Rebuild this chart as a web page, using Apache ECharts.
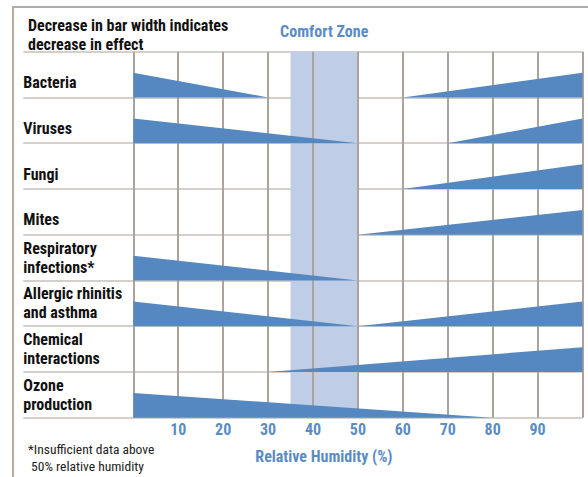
<!DOCTYPE html>
<html><head><meta charset="utf-8">
<script src="https://cdn.jsdelivr.net/npm/echarts@6/dist/echarts.min.js"></script>
<style>html,body{margin:0;padding:0;background:#fff}#c{width:588px;height:477px}</style>
</head><body><div id="c"></div>
<script>
// Categories (rows, top to bottom)
const categories = ['Bacteria', 'Viruses', 'Fungi', 'Mites', 'Respiratory\ninfections*', 'Allergic rhinitis\nand asthma', 'Chemical\ninteractions', 'Ozone\nproduction'];
// Relative humidity tick labels
const xTicks = [10, 20, 30, 40, 50, 60, 70, 80, 90];
// Wedges: [row index, start RH %, relative effect at start, end RH %, relative effect at end]
const decreasingWedges = [[0, 0, 1, 30, 0], [1, 0, 1, 50, 0], [4, 0, 1, 50, 0], [5, 0, 1, 50, 0], [7, 0, 1, 80, 0]];
const increasingWedges = [[0, 60, 0, 100, 1], [1, 70, 0, 100, 1], [2, 60, 0, 100, 1], [3, 50, 0, 100, 1], [5, 50, 0, 100, 1], [6, 30, 0, 100, 1]];
// Comfort zone range (RH %)
const comfortZone = [35, 50];

const FONT = 'Roboto;font-stretch:condensed';
const BLUE = '#5588c0';
const TEXTBLUE = '#5b8cc4';

const chart = echarts.init(document.getElementById('c'), null, {renderer: 'svg'});

function renderWedge(params, api) {
  const r = api.value(0), x1 = api.value(1), h1 = api.value(2), x2 = api.value(3), h2 = api.value(4);
  const band = api.size([0, 1])[1];
  const c1 = api.coord([x1, r]);
  const c2 = api.coord([x2, r]);
  const base = c1[1] + band / 2;
  const H = band * 0.54;
  return {
    type: 'polygon',
    shape: {points: [[c1[0], base], [c1[0], base - h1 * H], [c2[0], base - h2 * H], [c2[0], base]]},
    style: {fill: BLUE}
  };
}

chart.setOption({
  animation: false,
  title: [
    {text: 'Decrease in bar width indicates\ndecrease in effect', left: 23, top: 11,
     textStyle: {fontFamily: FONT, fontSize: 16, fontWeight: 'bold', color: '#111', lineHeight: 19}},
    {text: '*Insufficient data above\n 50% relative humidity', left: 23, top: 435,
     textStyle: {fontFamily: FONT, fontSize: 13.5, fontWeight: 'normal', color: '#222', lineHeight: 17}}
  ],
  graphic: [{
    type: 'polyline', silent: true,
    shape: {points: [[13, 477], [13, 7], [588, 7]]},
    style: {stroke: '#b5ada5', lineWidth: 2, fill: null}
  }],
  grid: {left: 133.3, right: 5.5, top: 51.7, bottom: 59.3},
  xAxis: {
    type: 'value', min: 0, max: 100, interval: 10, z: 2,
    axisLine: {show: false}, axisTick: {show: false},
    splitLine: {show: true, lineStyle: {color: '#aca49c', width: 2}},
    axisLabel: {
      margin: 7, color: TEXTBLUE, fontFamily: FONT, fontSize: 16, fontWeight: 'bold',
      formatter: v => xTicks.indexOf(v) >= 0 ? String(v) : ''
    },
    name: 'Relative Humidity (%)', nameLocation: 'middle', nameGap: 34,
    nameTextStyle: {color: TEXTBLUE, fontFamily: FONT, fontSize: 16, fontWeight: 'bold', padding: [0, 68, 0, 0]}
  },
  yAxis: {
    type: 'category', data: categories, inverse: true, boundaryGap: true, z: 0,
    axisLine: {show: false},
    axisTick: {show: true, length: 110, lineStyle: {color: '#d3cfca', width: 2}},
    splitLine: {show: true, lineStyle: {color: '#d3cfca', width: 2}},
    axisLabel: {
      align: 'left', margin: 110, color: '#111', fontFamily: FONT, fontSize: 16, fontWeight: 'bold', lineHeight: 19,
      formatter: v => v.indexOf('\n') >= 0 ? v : '{s|' + v + '}',
      rich: {s: {padding: [16, 0, 0, 0], fontFamily: FONT, fontSize: 16, fontWeight: 'bold', color: '#111'}}
    }
  },
  series: [
    {
      type: 'custom', z: 1, data: [],
      renderItem: () => null,
      markArea: {
        silent: true,
        itemStyle: {color: '#bfcde6'},
        label: {show: true, position: 'top', distance: 15, color: TEXTBLUE, fontFamily: FONT, fontSize: 16, fontWeight: 'bold'},
        data: [[{name: 'Comfort Zone', xAxis: comfortZone[0]}, {xAxis: comfortZone[1]}]]
      }
    },
    {
      type: 'custom', z: 3, renderItem: renderWedge,
      encode: {x: [1, 3], y: 0},
      data: decreasingWedges.concat(increasingWedges)
    }
  ]
});
</script></body></html>
